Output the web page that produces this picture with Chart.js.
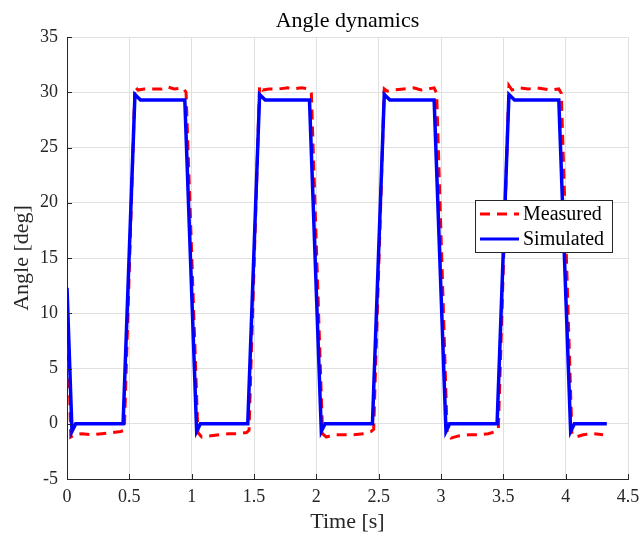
<!DOCTYPE html>
<html lang="en">
  <head>
    <meta charset="utf-8" />
    <title>Angle dynamics</title>
    <style>
      * {
        margin: 0;
        padding: 0;
      }
      body {
        background: white;
      }
    </style>
  </head>
  <body>
    <canvas id="myChart" width="639" height="537"></canvas>

    <script src="https://cdn.jsdelivr.net/npm/chart.js"></script>

    <script>
      const simTime = [
        0, 0.04, 0.07, 0.45, 0.545, 0.59, 0.945, 1.04, 1.07,
        1.45, 1.545, 1.59, 1.945, 2.04, 2.07,
        2.45, 2.545, 2.59, 2.945, 3.04, 3.07,
        3.45, 3.545, 3.59, 3.945, 4.04, 4.07, 4.33,
      ];
      const simAngle = [
        12.3, -0.7, 0, 0, 29.8, 29.3, 29.3, -0.7, 0,
        0, 29.8, 29.3, 29.3, -0.7, 0,
        0, 29.8, 29.3, 29.3, -0.7, 0,
        0, 29.8, 29.3, 29.3, -0.7, 0, 0,
      ];
      const measTime = [
        0, 0.03, 0.06, 0.12, 0.2, 0.28, 0.36, 0.43, 0.46,
        0.545, 0.57, 0.62, 0.7, 0.76, 0.8, 0.86, 0.93, 0.955,
        1.05, 1.08, 1.14, 1.22, 1.3, 1.38, 1.44, 1.46,
        1.545, 1.57, 1.62, 1.7, 1.77, 1.82, 1.88, 1.94, 1.96,
        2.05, 2.08, 2.14, 2.22, 2.3, 2.38, 2.44, 2.46,
        2.545, 2.57, 2.62, 2.7, 2.78, 2.84, 2.9, 2.945, 2.965,
        3.05, 3.08, 3.14, 3.22, 3.3, 3.38, 3.44, 3.46,
        3.545, 3.57, 3.62, 3.7, 3.77, 3.83, 3.88, 3.945, 3.965,
        4.05, 4.08, 4.14, 4.22, 4.3,
      ];
      const measAngle = [
        11.8, -1.2, -1.0, -0.9, -1.0, -0.9, -0.8, -0.7, -0.6,
        30.5, 30.2, 30.3, 30.3, 30.3, 30.5, 30.3, 30.4, 30.0,
        -0.8, -1.2, -1.1, -1.0, -0.9, -0.9, -0.8, -0.6,
        30.6, 30.2, 30.3, 30.3, 30.4, 30.3, 30.4, 30.3, 29.9,
        -0.9, -1.2, -1.0, -1.0, -1.0, -0.9, -0.7, -0.5,
        30.3, 30.1, 30.2, 30.3, 30.4, 30.2, 30.3, 30.4, 29.9,
        -1.0, -1.3, -1.1, -1.0, -1.0, -0.9, -0.7, -0.5,
        30.6, 30.2, 30.4, 30.3, 30.4, 30.3, 30.2, 30.3, 29.9,
        -0.9, -1.2, -1.0, -0.9, -1.0,
      ];
      const xTicks = [0, 0.5, 1, 1.5, 2, 2.5, 3, 3.5, 4, 4.5];
      const yTicks = [-5, 0, 5, 10, 15, 20, 25, 30, 35];

      const seriesNames = ["Measured", "Simulated"];

      const toPoints = (ts, ys) => ts.map((t, i) => ({ x: t, y: ys[i] }));

      const textColor = "#262626";
      const serif = "'Liberation Serif', 'Times New Roman', serif";

      const matlabExtras = {
        id: "matlabExtras",
        afterDraw(chart) {
          const {
            ctx,
            chartArea: { top, bottom, left, right },
            scales: { x, y },
          } = chart;
          ctx.save();

          // inward tick marks
          ctx.strokeStyle = textColor;
          ctx.lineWidth = 1;
          ctx.beginPath();
          xTicks.forEach((v) => {
            const px = Math.round(x.getPixelForValue(v)) + 0.5;
            ctx.moveTo(px, bottom);
            ctx.lineTo(px, bottom - 5);
          });
          yTicks.forEach((v) => {
            const py = Math.round(y.getPixelForValue(v)) + 0.5;
            ctx.moveTo(left, py);
            ctx.lineTo(left + 5, py);
          });
          ctx.stroke();

          // title
          ctx.fillStyle = "#000";
          ctx.font = "22px " + serif;
          ctx.textAlign = "center";
          ctx.textBaseline = "middle";
          ctx.fillText("Angle dynamics", (left + right) / 2, 21);

          // legend
          const bx = right - 153;
          const by = top + 163;
          const bw = 137;
          const bh = 52;
          ctx.fillStyle = "#fff";
          ctx.fillRect(bx, by, bw, bh);
          ctx.strokeStyle = "#262626";
          ctx.lineWidth = 1;
          ctx.strokeRect(bx + 0.5, by + 0.5, bw, bh);

          const ds = chart.data.datasets;
          ds.forEach((d, i) => {
            const ly = by + 14 + i * 25;
            ctx.beginPath();
            ctx.strokeStyle = d.borderColor;
            ctx.lineWidth = 3;
            ctx.setLineDash(d.borderDash || []);
            ctx.moveTo(bx + 5, ly);
            ctx.lineTo(bx + 44, ly);
            ctx.stroke();
            ctx.setLineDash([]);
            ctx.fillStyle = "#000";
            ctx.font = "20px " + serif;
            ctx.textAlign = "left";
            ctx.textBaseline = "middle";
            ctx.fillText(d.label, bx + 48, ly + 1);
          });

          ctx.restore();
        },
      };

      const config = {
        type: "line",
        data: {
          datasets: [
            {
              label: seriesNames[0],
              data: toPoints(measTime, measAngle),
              borderColor: "#ff0000",
              borderWidth: 3,
              borderDash: [10, 7],
              pointRadius: 0,
              tension: 0,
              order: 2,
            },
            {
              label: seriesNames[1],
              data: toPoints(simTime, simAngle),
              borderColor: "#0000ff",
              borderWidth: 3.5,
              pointRadius: 0,
              tension: 0,
              order: 1,
            },
          ],
        },
        options: {
          responsive: false,
          animation: false,
          layout: {
            padding: { top: 37, right: 0, left: 0, bottom: 0 },
          },
          plugins: {
            legend: { display: false },
            title: { display: false },
            tooltip: { enabled: false },
          },
          scales: {
            x: {
              type: "linear",
              min: 0,
              max: 4.5,
              afterFit(scale) {
                scale.height = 58;
                scale.paddingRight = 11;
              },
              afterBuildTicks(scale) {
                scale.ticks = xTicks.map((v) => ({ value: v }));
              },
              grid: {
                color: "#e0e0e0",
                drawTicks: false,
              },
              border: { display: true, color: textColor, width: 1 },
              ticks: {
                color: textColor,
                padding: 7,
                maxRotation: 0,
                autoSkip: false,
                font: { family: serif, size: 18 },
                callback: (v) => String(v),
              },
              title: {
                display: true,
                text: "Time [s]",
                color: textColor,
                font: { family: serif, size: 22 },
                padding: { top: 0, bottom: 2 },
              },
            },
            y: {
              type: "linear",
              min: -5,
              max: 35,
              afterFit(scale) {
                scale.width = 67;
              },
              afterBuildTicks(scale) {
                scale.ticks = yTicks.map((v) => ({ value: v }));
              },
              grid: {
                color: "#e0e0e0",
                drawTicks: false,
              },
              border: { display: true, color: textColor, width: 1 },
              ticks: {
                color: textColor,
                padding: 9,
                autoSkip: false,
                font: { family: serif, size: 18 },
                callback: (v) => String(v),
              },
              title: {
                display: true,
                text: "Angle [deg]",
                color: textColor,
                font: { family: serif, size: 22 },
                padding: { top: 9, bottom: 0 },
              },
            },
          },
        },
        plugins: [matlabExtras],
      };

      const myChart = new Chart(document.getElementById("myChart"), config);
    </script>
  </body>
</html>
